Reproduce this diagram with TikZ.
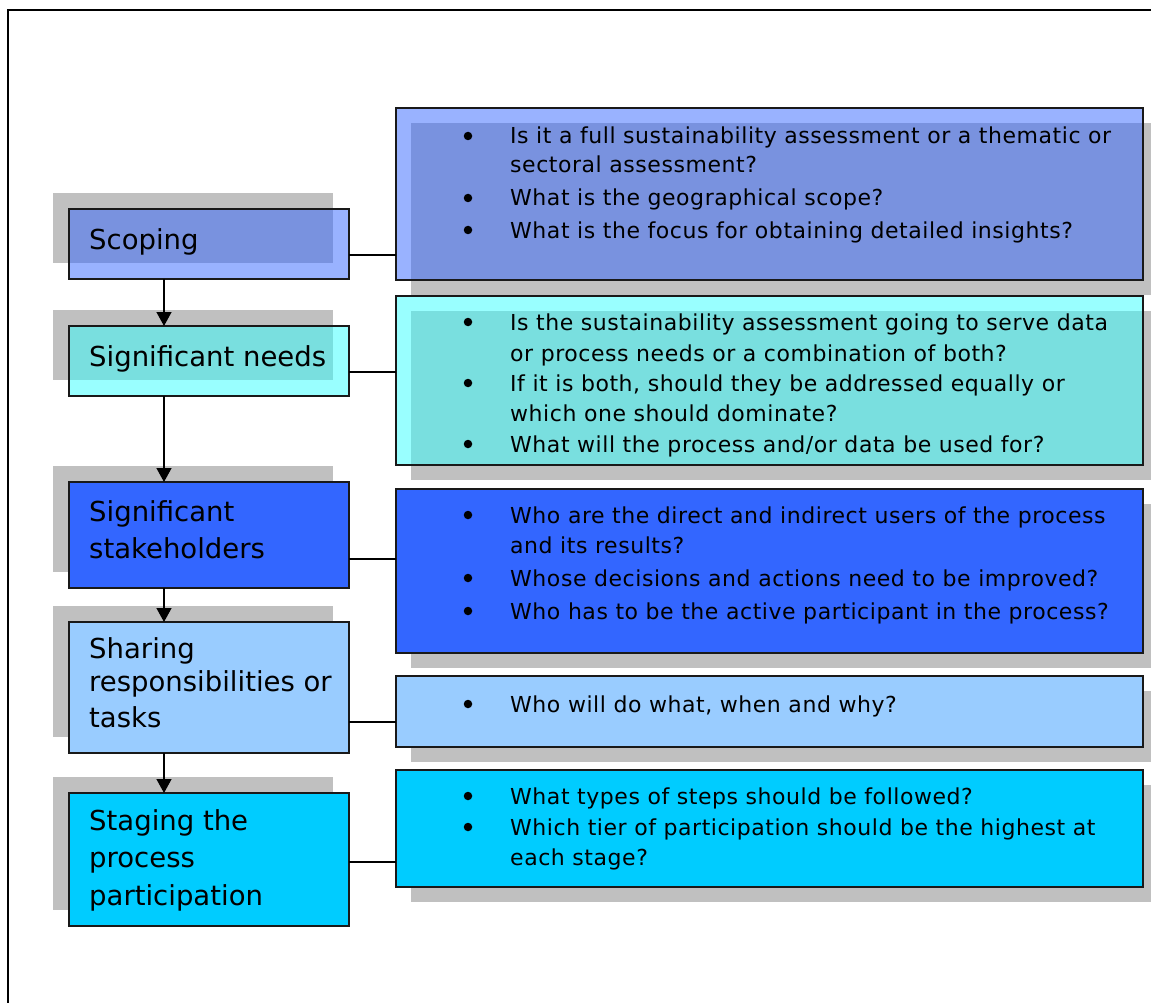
\documentclass[tikz,border=0pt]{standalone}
\usepackage{fontspec}
\setmainfont{DejaVu Sans}
\newfontfamily\qfont{DejaVu Sans}[LetterSpace=2.5]
\usetikzlibrary{arrows.meta,shadows}

\definecolor{shadowgray}{HTML}{C0C0C0}
\definecolor{scopeblue}{HTML}{3366FF}
\definecolor{needcyan}{HTML}{33FFFF}
\definecolor{holderblue}{HTML}{3366FF}
\definecolor{sharesky}{HTML}{99CCFF}
\definecolor{stageaqua}{HTML}{00CCFF}

\tikzset{
  box/.style={draw=black!90, line width=1.8pt, rectangle, anchor=north west,
    inner sep=0pt, outer sep=0pt},
  leftbox/.style={box, minimum width=280pt,
    drop shadow={shadow xshift=-16pt, shadow yshift=16pt, fill=shadowgray, opacity=1}},
  rightbox/.style={box, minimum width=747pt,
    drop shadow={shadow xshift=15pt, shadow yshift=-15pt, fill=shadowgray, opacity=1}},
  stagetext/.style={anchor=base west, inner sep=0pt, font=\fontsize{27.5}{33}\selectfont},
  qtext/.style={anchor=base west, inner sep=0pt, font=\qfont\fontsize{22}{29}\selectfont},
  bulletdot/.style={circle, fill=black, draw=none, inner sep=0pt, minimum size=8.5pt},
  flow/.style={line width=1.3pt, -{Triangle[width=15pt,length=14pt]}},
  link/.style={line width=1.6pt},
  frameline/.style={line width=2.2pt}
}

\begin{document}
\begin{tikzpicture}[x=1pt, y=-1pt]
\useasboundingbox (0,0) rectangle (1151,1003);
\clip (0,0) rectangle (1151,1003);

% outer frame (only its top and left sides fall inside the page)
\draw[frameline] (8,1003) -- (8,10) -- (1151,10);

% stage boxes on the left
\node[leftbox, fill=scopeblue, fill opacity=0.5, minimum height=70pt]  (scop)  at (69,209) {};
\node[leftbox, fill=needcyan, fill opacity=0.5, minimum height=70pt]   (need)  at (69,326) {};
\node[leftbox, fill=holderblue, minimum height=106pt]                 (hold)  at (69,482) {};
\node[leftbox, fill=sharesky, minimum height=131pt]                   (share) at (69,622) {};
\node[leftbox, fill=stageaqua, minimum height=133pt]                  (stage) at (69,793) {};

% question boxes on the right
\node[rightbox, fill=scopeblue, fill opacity=0.5, minimum height=172pt] (q1) at (396,108) {};
\node[rightbox, fill=needcyan, fill opacity=0.5, minimum height=169pt]  (q2) at (396,296) {};
\node[rightbox, fill=holderblue, minimum height=164pt]                 (q3) at (396,489) {};
\node[rightbox, fill=sharesky, minimum height=71pt]                    (q4) at (396,676) {};
\node[rightbox, fill=stageaqua, minimum height=117pt]                  (q5) at (396,770) {};

% flow between the stages
\draw[flow] (164,0 |- scop.south)  -- (164,0 |- need.north);
\draw[flow] (164,0 |- need.south)  -- (164,0 |- hold.north);
\draw[flow] (164,0 |- hold.south)  -- (164,0 |- share.north);
\draw[flow] (164,0 |- share.south) -- (164,0 |- stage.north);

% links from each stage to its questions
\draw[link] (scop.east |- 0,255)  -- (q1.west |- 0,255);
\draw[link] (need.east |- 0,372)  -- (q2.west |- 0,372);
\draw[link] (hold.east |- 0,559)  -- (q3.west |- 0,559);
\draw[link] (share.east |- 0,722) -- (q4.west |- 0,722);
\draw[link] (stage.east |- 0,862) -- (q5.west |- 0,862);

% stage labels
\node[stagetext] (tscop)   at (89,250) {Scoping};
\node[stagetext] (tneed)   at (89,366) {Significant needs};
\node[stagetext] (thold1)  at (89,521) {Significant};
\node[stagetext] (thold2)  at (89,558) {stakeholders};
\node[stagetext] (tshare1) at (89,658) {Sharing};
\node[stagetext] (tshare2) at (89,691) {responsibilities or};
\node[stagetext] (tshare3) at (89,727) {tasks};
\node[stagetext] (tstage1) at (89,830) {Staging the};
\node[stagetext] (tstage2) at (89,867) {process};
\node[stagetext] (tstage3) at (89,905) {participation};

% scoping questions
\node[bulletdot] (b11) at (468,136) {};
\node[qtext] (a11) at (510,144) {Is it a full sustainability assessment or a thematic or};
\node[qtext] (a12) at (510,173) {sectoral assessment?};
\node[bulletdot] (b12) at (468,198) {};
\node[qtext] (a13) at (510,206) {What is the geographical scope?};
\node[bulletdot] (b13) at (468,230) {};
\node[qtext] (a14) at (510,238) {What is the focus for obtaining detailed insights?};

% needs questions (the text frame cuts off the last line)
\begin{scope}
\clip (396,296) rectangle (1143,456);
\node[bulletdot] (b21) at (468,322) {};
\node[qtext] (a21) at (510,330) {Is the sustainability assessment going to serve data};
\node[qtext] (a22) at (510,361) {or process needs or a combination of both?};
\node[bulletdot] (b22) at (468,383) {};
\node[qtext] (a23) at (510,391) {If it is both, should they be addressed equally or};
\node[qtext] (a24) at (510,421) {which one should dominate?};
\node[bulletdot] (b23) at (468,444) {};
\node[qtext] (a25) at (510,452) {What will the process and/or data be used for?};
\end{scope}

% stakeholder questions
\node[bulletdot] (b31) at (468,515) {};
\node[qtext] (a31) at (510,523) {Who are the direct and indirect users of the process};
\node[qtext] (a32) at (510,553) {and its results?};
\node[bulletdot] (b32) at (468,578) {};
\node[qtext] (a33) at (510,586) {Whose decisions and actions need to be improved?};
\node[bulletdot] (b33) at (468,611) {};
\node[qtext] (a34) at (510,619) {Who has to be the active participant in the process?};

% sharing question
\node[bulletdot] (b41) at (468,704) {};
\node[qtext] (a41) at (510,712) {Who will do what, when and why?};

% staging questions
\node[bulletdot] (b51) at (468,796) {};
\node[qtext] (a51) at (510,804) {What types of steps should be followed?};
\node[bulletdot] (b52) at (468,827) {};
\node[qtext] (a52) at (510,835) {Which tier of participation should be the highest at};
\node[qtext] (a53) at (510,865) {each stage?};
\end{tikzpicture}
\end{document}
